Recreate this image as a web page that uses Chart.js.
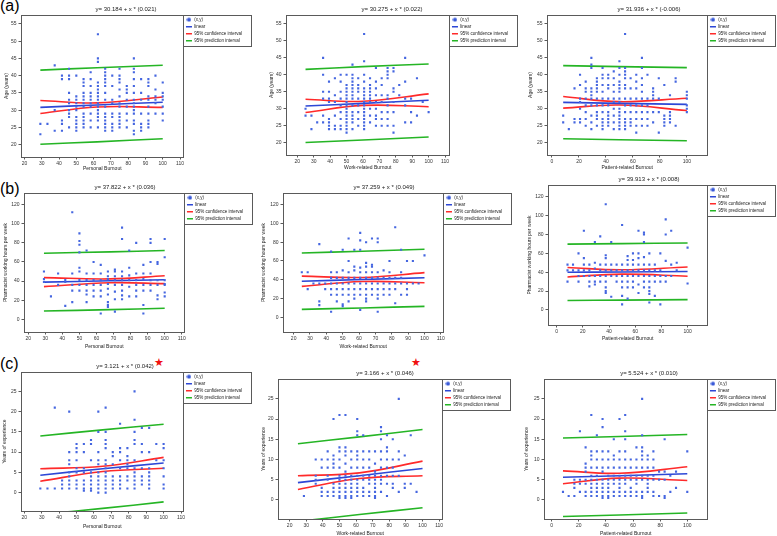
<!DOCTYPE html>
<html>
<head>
<meta charset="utf-8">
<script src="https://cdn.jsdelivr.net/npm/chart.js@4.4.0/dist/chart.umd.min.js"></script>
<style>
  html, body { margin: 0; padding: 0; background: #fff; }
  body { width: 777px; height: 536px; position: relative; overflow: hidden; font-family: 'Liberation Sans', Arial, sans-serif; }
  .panel { position: absolute; }
  .tag { position: absolute; left: 0; font-size: 16px; line-height: 16px; color: #000; }
  .star { position: absolute; color: #f01010; font-size: 11px; line-height: 11px; font-family: 'DejaVu Sans', sans-serif; }
</style>
</head>
<body>
<div class="tag" style="top:-2px">(a)</div>
<div class="tag" style="top:181px">(b)</div>
<div class="tag" style="top:356px">(c)</div>
<div class="star" style="left:154px;top:357px">★</div>
<div class="star" style="left:411px;top:357px">★</div>

<div class="panel" style="left:0px;top:6px;width:252px;height:166px"><canvas id="a1"></canvas></div>
<div class="panel" style="left:266px;top:6px;width:252px;height:165px"><canvas id="a2"></canvas></div>
<div class="panel" style="left:522px;top:6px;width:254px;height:165px"><canvas id="a3"></canvas></div>
<div class="panel" style="left:-3px;top:184px;width:256px;height:166px"><canvas id="b1"></canvas></div>
<div class="panel" style="left:256px;top:184px;width:256px;height:166px"><canvas id="b2"></canvas></div>
<div class="panel" style="left:522px;top:176px;width:254px;height:166px"><canvas id="b3"></canvas></div>
<div class="panel" style="left:-2px;top:363px;width:254px;height:167px"><canvas id="c1"></canvas></div>
<div class="panel" style="left:259px;top:370px;width:252px;height:167px"><canvas id="c2"></canvas></div>
<div class="panel" style="left:522px;top:370px;width:254px;height:167px"><canvas id="c3"></canvas></div>

<script>
// Burnout score levels (x columns)
const personalX = [29.2, 33.3, 37.5, 41.7, 45.8, 50, 54.2, 58.3, 62.5, 66.7, 70.8, 75, 79.2, 83.3, 87.5, 91.7, 95.8, 100];
const workX = [25, 28.6, 32.1, 35.7, 39.3, 42.9, 46.4, 50, 53.6, 57.1, 60.7, 64.3, 67.9, 71.4, 75, 78.6, 82.1, 85.7, 89.3, 92.9, 96.4, 100];
const patientX = [8.3, 12.5, 16.7, 20.8, 25, 29.2, 33.3, 37.5, 41.7, 45.8, 50, 54.2, 58.3, 62.5, 66.7, 70.8, 75, 79.2, 83.3, 87.5, 91.7, 95.8, 100];

// y values observed at each x column
const ageByPersonal = [[26,23],[26],[43,30,24],[40,39,27,26,24],[42,40,39,35,33,32,30,29,28,25],[40,34,33,32,31,30,28,27,26,25,24],[39,38,37,35,34,33,32,31,29,28,27,26,25],[41,39,37,35,34,33,32,31,29,27,25],[52,45,44,38,37,36,35,34,33,32,31,30,29,28,27,25],[42,41,40,39,38,37,35,33,31,29,28,27,26,25,24],[40,37,33,32,29,28,26,25,24],[42,40,39,38,36,34,32,31,29,28,27,26,25],[37,36,35,33,31,29,27,25],[45,42,41,39,37,35,33,32,31,30,29,27,26,24,23],[39,35,33,29,26,25,24],[39,38,37,34,33,31,29,27,26,25],[40,36,34,33,32,29],[38,35,34,33,31,29,27]];
const ageByWork = [[30,28],[28,24],[26],[45,40,35,33,28,26],[38,35,33,32,27,26,25,24],[39,34,32,28,25,24],[40,38,35,33,31,29,27,25,24],[40,37,36,35,34,33,32,31,30,29,28,27,26,25,24,23],[43,40,39,38,37,36,35,34,33,31,29,28,27,26,24],[39,37,36,35,33,31,29,27,25],[52,44,40,38,36,35,34,33,32,31,30,29,28,27,26,25,24],[39,37,36,35,34,33,32,30,28,26],[42,38,36,34,32,30,28,27,25],[39,37,34,32,29,27,25],[42,41,40,39,34,33,31,29,27,25],[42,41,36,35,32,29,25,23],[37,34],[45,38,33,31,26],[33,29,26],[39,28],[32],[29]];
const ageByPatient = [[28,26],[24],[36,27,26],[40,37,33,32,30,27,26],[38,36,35,33,31,29,27,25],[45,43,42,36,35,34,33,31,28,26,24],[39,38,37,36,35,33,31,29,28,27,25],[42,40,39,37,35,33,31,29,27,26,25,24],[40,39,37,36,33,31,29,28,27,26,25],[41,39,37,35,33,32,30,28,26,24],[44,42,40,38,37,36,35,33,32,30,29,28,27,26,25,24],[52,42,41,40,39,37,36,33,31,29,27,26,25,24],[39,36,33,31,29,27,26,25],[40,38,36,33,31,29,27,25,23],[45,42,39,37,35,33,31,29,27,25],[40,33,31,29,27,25],[36,35,34,33,29,26],[39,33,29,23],[37,28,27,26,25],[34,29,28,27,26],[39,38,25],[],[35,34,33,31,30,29]];

const hoursByPersonal = [[50,42,39],[24],[48,36],[41,39,14],[112,48,36,30,18],[90,82,78,70,54,50,41,36,30],[72,48,41,36,30,26,18],[60,48,41,36,30,24],[57,48,41,36,30,24,6],[50,45,42,37,32,26,18,15,13],[52,50,45,41,36,29,21,8],[96,84,50,45,41,36,30,25,21],[72,54,46,41,34,24],[80,48,41,36,30,24],[57,48,42,36,30,15,6],[84,80,60,48,41,36,30],[60,58,41,36,25,21],[84,65,41,37,36,28,24]];
const hoursByWork = [[48],[48,30],[36],[78,36,17,13],[36,30],[70,48,42,36,30,24,6],[48,42,36,30,24,17],[72,50,42,36,30,24,14,12],[84,60,48,42,36,30,24,17],[72,54,50,42,36,30,24,20],[90,82,72,53,48,42,36,30,24,8],[80,58,54,48,42,36,30,24,20,17],[84,56,54,48,42,36,30,24],[84,80,48,42,36,30,24,20,6],[50,42,36,30,24],[60,48,42,36,30,24],[96,42,36,30,15],[72,48,42,36,24],[60,36,30,24],[60,36],[36],[66]];
const hoursByPatient = [[48,42,30],[48,42],[60,42,36,30],[84,55,48,42,36],[48,42,36,30,25],[72,50,44,36,30,27],[78,48,42,36,30],[112,58,55,48,42,36,30,24,20,18],[72,48,42,36,14],[48,42,36,30],[90,48,42,36,30,24,15,6],[57,53,48,42,36,30,24,12],[60,53,48,42,36,30,24],[84,60,55,48,42,36,27,18],[82,80,72,56,48,42,36,30,24],[60,48,42,36,30,24,20,17,8],[48,42,36,30,15],[60,42,36,30,6],[96,80,52,36,30],[84,48,36],[50,42],[],[66,28]];

const yearsByPersonal = [[1],[1],[21,1],[3,2,1],[20,10,8,7,5,4,3,2,1],[12,11,10,8,6,5,3,2,1],[12,10,6,5,3,2,1,0.5],[13,12,8,5,4,3,2,1,0.5],[20,15,10,8,7,5,4,3,2,1,0],[21,15,13,12,11,8,7,6,5,4,3,2,1,0],[10,9,7,4,3,2,1],[17,11,10,8,6,4,3,2,1],[11,9,8,7,6,4,3,1],[25,18,15,13,12,8,6,5,4,3,2,1],[16,12,10,6,4,3,2],[16,10,6,5,4,3,2,1],[12,8],[12,11,8,6,4,2,1]];
const yearsByWork = [[],[1],[],[10,6,5,4],[10,8,3,2,1],[12,10,8,6,5,2,1],[20,11,10,9,8,4,3,2,1],[21,13,12,10,8,6,5,4,3,2,1,0.5],[21,13,12,11,9,7,6,5,4,3,2,1,0.5],[12,10,8,6,5,4,3,2,1,0.5],[20,17,16,12,11,10,8,6,5,4,3,2,1],[16,12,10,8,6,5,3,2,1],[12,10,8,6,5,4,2,1],[12,9,7,6,5,4,3,2,1,0.5],[18,17,15,12,10,8,6,5,4,2],[16,13,12,10,8,6,4,1],[15,10,8,6,4,3],[25,12,10,6,2],[11,4,3],[16,4],[2],[]];
const yearsByPatient = [[2],[1],[5,4,3,1],[17,5,4,2],[13,9,8,7,5,4,2,1],[21,12,11,10,8,6,5,4,3,2,1],[16,12,10,8,6,5,4,3,2,1],[20,18,12,10,8,7,5,4,3,2,1,0.5],[12,10,8,6,5,4,3,2,1,0.5],[15,11,10,8,6,5,4,2,1],[20,12,10,8,6,5,4,3,2,1],[21,17,15,12,10,8,6,5,4,2,1],[10,8,6,5,3,2,1],[13,10,8,6,5,4,2,1],[25,16,13,12,11,10,8,6,5,2,1,0.5],[11,10,8,6,5,4,3,2],[12,10,8,6,5,2,1],[7,5,1],[15,7,5,1,0.5],[6,2],[7,3],[],[12,2]];

// fitted lines: [x, linear, CI upper, CI lower, PI upper, PI lower]
const linesA1 = [[29.2, 62, 100], [30.8, 31.5, 32.3], [32.8, 32.1, 33.8], [29.0, 30.9, 30.8], [41.6, 42.3, 43.0], [20.1, 20.8, 21.7]];
const linesA2 = [[25, 60, 100], [30.8, 31.6, 32.5], [32.8, 32.2, 34.4], [28.9, 31.0, 30.6], [41.6, 42.4, 43.2], [20.1, 20.8, 21.7]];
const linesA3 = [[8.3, 50, 100], [31.9, 31.6, 31.3], [33.6, 32.1, 33.1], [30.2, 31.1, 29.5], [42.7, 42.4, 42.1], [21.2, 20.9, 20.6]];
const linesB1 = [[29.2, 68, 100], [38.9, 40.3, 41.4], [43.6, 42.3, 45.6], [34.2, 38.3, 37.3], [69.2, 70.6, 72.0], [8.7, 10.1, 11.5]];
const linesB2 = [[25, 62, 100], [38.5, 40.3, 42.2], [43.9, 42.5, 47.6], [33.0, 38.1, 36.9], [68.5, 70.4, 72.5], [8.5, 10.0, 11.7]];
const linesB3 = [[8.3, 50, 100], [40.0, 40.3, 40.7], [45.0, 42.6, 45.6], [35.0, 38.0, 35.8], [69.8, 70.3, 71.0], [10.0, 10.5, 11.0]];
const linesC1 = [[29.2, 65, 100], [4.3, 5.9, 7.3], [5.9, 6.5, 8.7], [2.8, 5.2, 6.0], [14.0, 15.5, 16.9], [-5.4, -3.9, -2.3]];
const linesC2 = [[25, 62, 100], [4.3, 6.0, 7.8], [6.0, 6.7, 9.6], [2.6, 5.3, 6.0], [13.9, 15.6, 17.4], [-5.3, -3.6, -1.9]];
const linesC3 = [[8.3, 50, 100], [5.6, 6.0, 6.5], [7.2, 6.6, 8.2], [4.0, 5.4, 4.8], [15.3, 15.7, 16.2], [-4.1, -3.7, -3.2]];

const equations = [
    'y= 30.184 + x * (0.021)', 'y= 30.275 + x * (0.022)', 'y= 31.936 + x * (-0.006)',
    'y= 37.822 + x * (0.036)', 'y= 37.259 + x * (0.049)', 'y= 39.913 + x * (0.008)',
    'y= 3.121 + x * (0.042)', 'y= 3.166 + x * (0.046)', 'y= 5.524 + x * (0.010)'
];

Chart.defaults.font.family = "'Liberation Sans', Arial, sans-serif";
Chart.defaults.color = '#222';

const BLUE = '#2d47d6';
const RED = '#ff2a2a';
const GREEN = '#25b525';

// small dot for the (x,y) legend entry
const dotIcon = document.createElement('canvas');
dotIcon.width = 5; dotIcon.height = 5;
(function() {
    const c = dotIcon.getContext('2d');
    c.fillStyle = '#3a5ad8';
    c.beginPath(); c.arc(2.5, 2.5, 2.1, 0, Math.PI * 2); c.fill();
})();

// draws the plot frame and the box around the legend
const framePlugin = {
    id: 'frame',
    afterDraw(chart) {
        const {ctx, chartArea: a, legend} = chart;
        ctx.save();
        ctx.strokeStyle = '#5a5a5a';
        ctx.lineWidth = 1;
        ctx.strokeRect(Math.round(a.left) + 0.5, Math.round(a.top) + 0.5, Math.round(a.right - a.left), Math.round(a.bottom - a.top));
        const hb = legend.legendHitBoxes;
        const last = hb[hb.length - 1];
        const bottom = last.top + last.height + legend.options.labels.padding + 0.5;
        ctx.strokeRect(Math.round(a.right) + 0.5, Math.round(a.top) + 0.5, Math.round(legend.right - a.right) - 1, Math.round(bottom - a.top));
        ctx.restore();
    }
};

function toPoints(xs, cols) {
    const pts = [];
    xs.forEach((x, i) => cols[i].forEach(y => pts.push({x: x, y: y})));
    return pts;
}

function toLine(xs, ys) {
    return xs.map((x, i) => ({x: x, y: ys[i]}));
}

function lineSet(label, data, color) {
    return {
        type: 'scatter', label: label, data: data, showLine: true,
        borderColor: color, backgroundColor: color, borderWidth: 1.6,
        pointRadius: 0, pointHoverRadius: 0, pointStyle: 'line', pointBorderWidth: 1.6,
        tension: 0.4
    };
}

function drawPanel(p) {
    const L = p.lines;
    const datasets = [
        {label: '(x,y)', data: toPoints(p.xs, p.cols), pointStyle: 'rect', pointRadius: 1.5,
         backgroundColor: '#4566e0', borderColor: '#4566e0', borderWidth: 0},
        lineSet('linear', toLine(L[0], L[1]), BLUE),
        lineSet('95% confidence interval', toLine(L[0], L[2]), RED),
        lineSet('95% prediction interval', toLine(L[0], L[4]), GREEN),
        lineSet('', toLine(L[0], L[3]), RED),
        lineSet('', toLine(L[0], L[5]), GREEN)
    ];
    const tickFont = {size: 5};
    new Chart(document.getElementById(p.id), {
        type: 'scatter',
        data: {datasets: datasets},
        options: {
            responsive: true,
            maintainAspectRatio: false,
            animation: false,
            layout: {padding: 0},
            plugins: {
                tooltip: {enabled: false},
                title: {display: true, text: p.title, font: {size: 6, weight: 'normal'}, color: '#222', padding: {top: 0, bottom: 1.8}},
                legend: {
                    position: 'right', align: 'start', fullSize: false, maxWidth: 100,
                    labels: {
                        usePointStyle: true, pointStyleWidth: 6, boxHeight: 5,
                        font: {size: 4.5}, padding: 2.5, color: '#222',
                        filter: item => item.datasetIndex < 4,
                        generateLabels(chart) {
                            const items = Chart.defaults.plugins.legend.labels.generateLabels(chart);
                            items[0].pointStyle = dotIcon;
                            return items;
                        }
                    }
                }
            },
            scales: {
                x: {
                    type: 'linear', min: p.x[0], max: p.x[1],
                    afterFit: s => { s.height = p.xh; },
                    ticks: {stepSize: p.x[2], includeBounds: false, autoSkip: false, maxRotation: 0, font: tickFont, padding: 1.5, color: '#333'},
                    grid: {drawOnChartArea: false, tickLength: 2.5, color: '#5a5a5a'},
                    border: {color: '#5a5a5a'},
                    title: {display: true, text: p.xt, font: {size: 5}, padding: 0, color: '#222'}
                },
                y: {
                    type: 'linear', min: p.y[0], max: p.y[1],
                    afterFit: s => { s.width = p.yw; },
                    ticks: {stepSize: p.y[2], includeBounds: false, autoSkip: false, font: tickFont, padding: 2, color: '#333'},
                    grid: {drawOnChartArea: false, tickLength: 2.5, color: '#5a5a5a'},
                    border: {color: '#5a5a5a'},
                    title: {display: true, text: p.yt, font: {size: 5}, padding: {top: p.ytp, bottom: 0}, color: '#222'}
                }
            }
        },
        plugins: [framePlugin]
    });
}

const panels = [
    {id: 'a1', xs: personalX, cols: ageByPersonal, lines: linesA1, title: equations[0], xt: 'Personal Burnout', yt: 'Age (years)', x: [18, 112, 10], y: [16.4, 57.6, 5], yw: 21, xh: 15, ytp: 4},
    {id: 'a2', xs: workX, cols: ageByWork, lines: linesA2, title: equations[1], xt: 'Work-related Burnout', yt: 'Age (years)', x: [13.1, 112.7, 10], y: [16.4, 57.6, 5], yw: 20, xh: 16, ytp: 2.7},
    {id: 'a3', xs: patientX, cols: ageByPatient, lines: linesA3, title: equations[2], xt: 'Patient-related Burnout', yt: 'Age (years)', x: [-3.7, 115.3, 20], y: [16.4, 57.6, 5], yw: 25, xh: 16, ytp: 5.3},
    {id: 'b1', xs: personalX, cols: hoursByPersonal, lines: linesB1, title: equations[3], xt: 'Personal Burnout', yt: 'Pharmacist working hours per week', x: [17.5, 111.6, 10], y: [-13.3, 132.2, 20], yw: 27, xh: 18, ytp: 6},
    {id: 'b2', xs: workX, cols: hoursByWork, lines: linesB2, title: equations[4], xt: 'Work-related Burnout', yt: 'Pharmacist working hours per week', x: [13.5, 111.6, 10], y: [-15.6, 132.4, 20], yw: 27, xh: 18, ytp: 5},
    {id: 'b3', xs: patientX, cols: hoursByPatient, lines: linesB3, title: equations[5], xt: 'Patient-related Burnout', yt: 'Pharmacist working hours per week', x: [-6.6, 115.2, 20], y: [-15.9, 132.4, 20], yw: 26, xh: 17, ytp: 4.7},
    {id: 'c1', xs: personalX, cols: yearsByPersonal, lines: linesC1, title: equations[6], xt: 'Personal Burnout', yt: 'Years of experience', x: [18.1, 111.4, 10], y: [-4.55, 29.8, 5], yw: 23, xh: 19, ytp: 4},
    {id: 'c2', xs: workX, cols: yearsByWork, lines: linesC2, title: equations[7], xt: 'Work-related Burnout', yt: 'Years of experience', x: [13, 112, 10], y: [-4.7, 29.9, 5], yw: 19, xh: 18, ytp: 2},
    {id: 'c3', xs: patientX, cols: yearsByPatient, lines: linesC3, title: equations[8], xt: 'Patient-related Burnout', yt: 'Years of experience', x: [-5.7, 114.9, 20], y: [-4.7, 29.9, 5], yw: 22, xh: 18, ytp: 2}
];

panels.forEach(drawPanel);
</script>
</body>
</html>
